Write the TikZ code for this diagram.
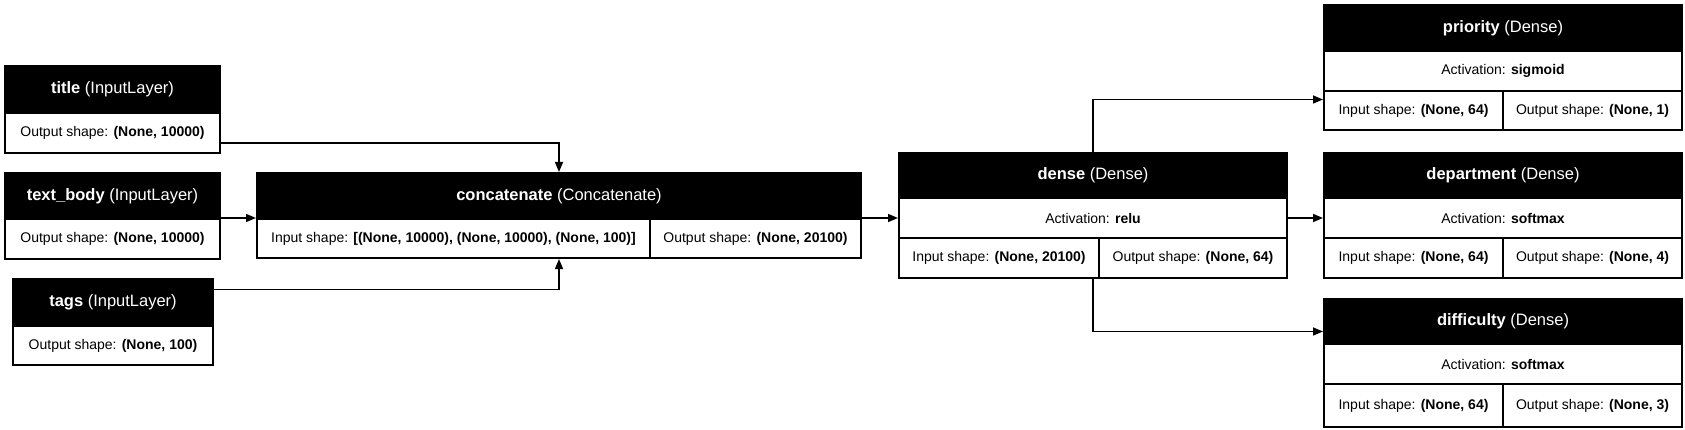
\documentclass[tikz,border=0pt]{standalone}
\usepackage{fontspec}
\setmainfont{Liberation Sans}
\usetikzlibrary{arrows.meta}

\tikzset{
  head/.style={draw, fill=black, text=white, line width=2pt, inner sep=0pt, anchor=north west, font=\fontsize{16.5}{18}\selectfont},
  cell/.style={draw, fill=white, line width=2pt, inner sep=0pt, anchor=north west, font=\fontsize{14}{16}\selectfont},
  link/.style={line width=1.5pt, -{Triangle[length=10pt,width=8pt]}},
}

\begin{document}
\begin{tikzpicture}[x=1pt, y=-1pt]
    \useasboundingbox (0,0) rectangle (1685,430);

    % Input layers
    \node[head, minimum width=215pt, minimum height=47pt] (title-h) at (4,65) {\textbf{title} (InputLayer)};
    \node[cell, minimum width=215pt, minimum height=40pt] (title-b) at (4,112) {Output shape: \textbf{(None, 10000)}};

    \node[head, minimum width=215pt, minimum height=46pt] (body-h) at (4,172) {\textbf{text\_body} (InputLayer)};
    \node[cell, minimum width=215pt, minimum height=40pt] (body-b) at (4,218) {Output shape: \textbf{(None, 10000)}};

    \node[head, minimum width=200pt, minimum height=47pt] (tags-h) at (12,278) {\textbf{tags} (InputLayer)};
    \node[cell, minimum width=200pt, minimum height=39pt] (tags-b) at (12,325) {Output shape: \textbf{(None, 100)}};

    % Concatenate
    \node[head, minimum width=604pt, minimum height=46pt] (concat-h) at (256,172) {\textbf{concatenate} (Concatenate)};
    \node[cell, minimum width=393pt, minimum height=39pt] (concat-in) at (256,218) {Input shape: \textbf{[(None, 10000), (None, 10000), (None, 100)]}};
    \node[cell, minimum width=211pt, minimum height=39pt] (concat-out) at (649,218) {Output shape: \textbf{(None, 20100)}};

    % Shared dense layer
    \node[head, minimum width=388pt, minimum height=45pt] (dense-h) at (898,152) {\textbf{dense} (Dense)};
    \node[cell, minimum width=388pt, minimum height=40pt] (dense-act) at (898,197) {Activation: \textbf{relu}};
    \node[cell, minimum width=200pt, minimum height=40pt] (dense-in) at (898,237) {Input shape: \textbf{(None, 20100)}};
    \node[cell, minimum width=188pt, minimum height=40pt] (dense-out) at (1098,237) {Output shape: \textbf{(None, 64)}};

    % Output heads
    \node[head, minimum width=358pt, minimum height=46pt] (prio-h) at (1323,4) {\textbf{priority} (Dense)};
    \node[cell, minimum width=358pt, minimum height=40pt] (prio-act) at (1323,50) {Activation: \textbf{sigmoid}};
    \node[cell, minimum width=179pt, minimum height=39pt] (prio-in) at (1323,90) {Input shape: \textbf{(None, 64)}};
    \node[cell, minimum width=179pt, minimum height=39pt] (prio-out) at (1502,90) {Output shape: \textbf{(None, 1)}};

    \node[head, minimum width=358pt, minimum height=45pt] (dept-h) at (1323,152) {\textbf{department} (Dense)};
    \node[cell, minimum width=358pt, minimum height=40pt] (dept-act) at (1323,197) {Activation: \textbf{softmax}};
    \node[cell, minimum width=179pt, minimum height=40pt] (dept-in) at (1323,237) {Input shape: \textbf{(None, 64)}};
    \node[cell, minimum width=179pt, minimum height=40pt] (dept-out) at (1502,237) {Output shape: \textbf{(None, 4)}};

    \node[head, minimum width=358pt, minimum height=45pt] (diff-h) at (1323,298) {\textbf{difficulty} (Dense)};
    \node[cell, minimum width=358pt, minimum height=40pt] (diff-act) at (1323,343) {Activation: \textbf{softmax}};
    \node[cell, minimum width=179pt, minimum height=43pt] (diff-in) at (1323,383) {Input shape: \textbf{(None, 64)}};
    \node[cell, minimum width=179pt, minimum height=43pt] (diff-out) at (1502,383) {Output shape: \textbf{(None, 3)}};

    % Connections
    \draw[link] ([yshift=-10pt]title-b.east) -| (concat-h.north);
    \draw[link] (body-b.north east) -- (body-b.north east -| concat-h.west);
    \draw[link] ([yshift=13pt]tags-h.east) -| (concat-h.north |- concat-in.south);
    \draw[link] (concat-out.north east |- dense-act.west) -- (dense-act.west);
    \draw[link] (dense-h.north) |- ([yshift=11pt]prio-in.west);
    \draw[link] (dense-act.east) -- (dept-act.west);
    \draw[link] (dense-h.center |- dense-out.south) |- ([yshift=-10pt]diff-h.west);

\end{tikzpicture}
\end{document}
